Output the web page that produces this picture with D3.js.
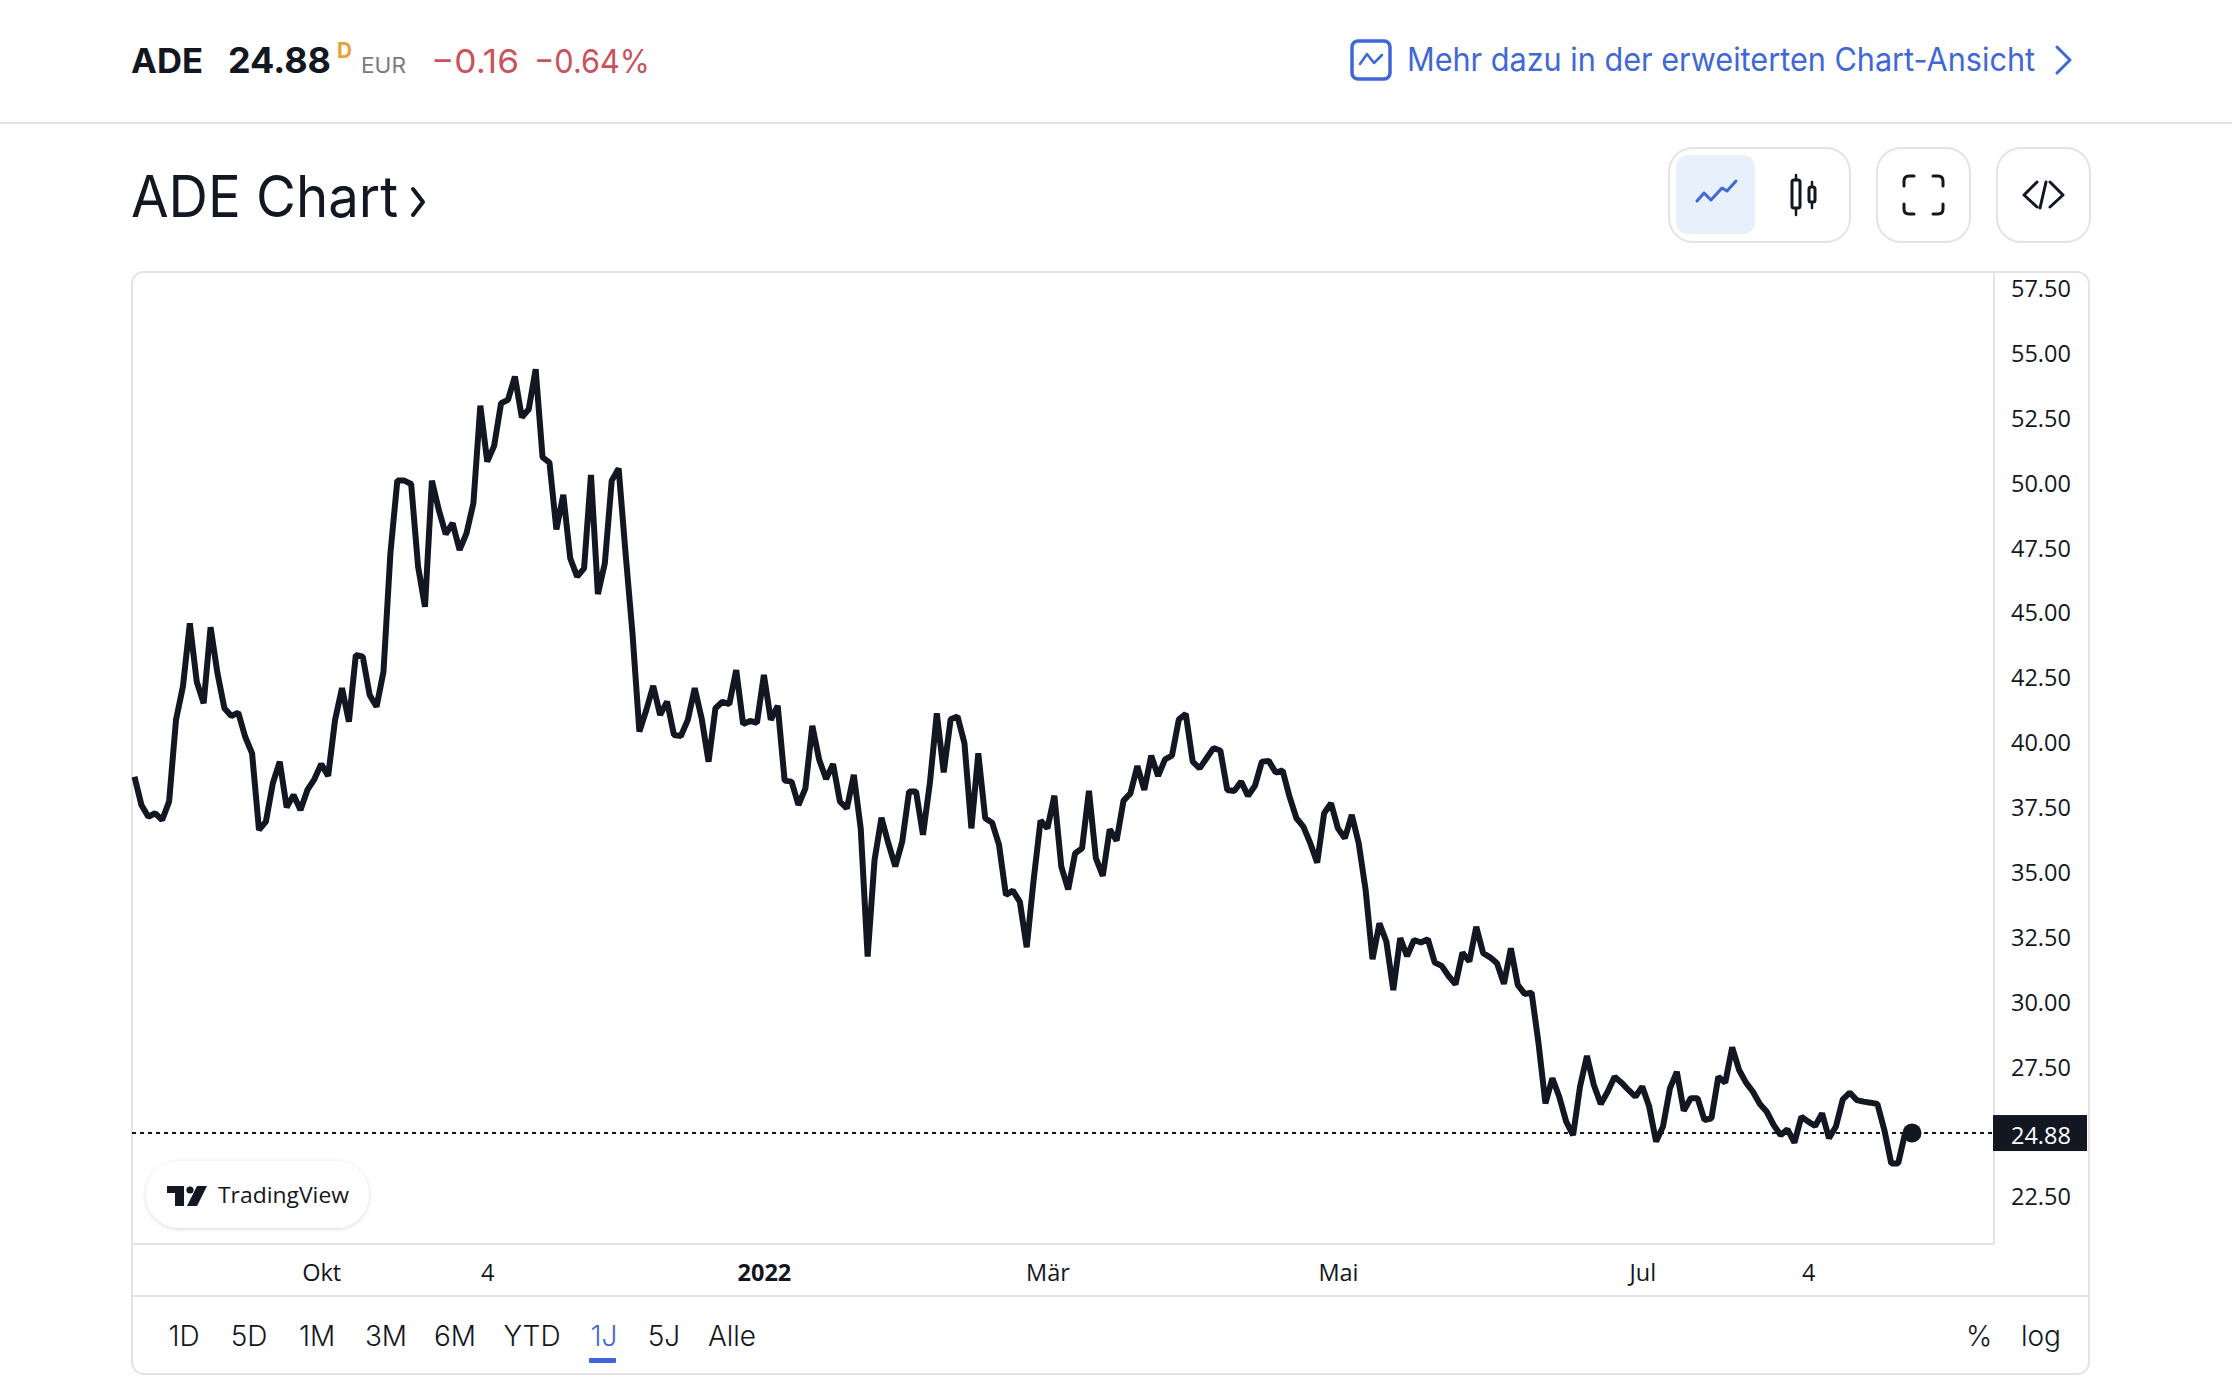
<!DOCTYPE html>
<html>
<head>
<meta charset="utf-8">
<script src="https://cdn.jsdelivr.net/npm/d3@7"></script>
<style>
	html, body { margin: 0; padding: 0; background: #fff; }
	svg { display: block; }
	text { font-family: Inter, "Noto Sans", sans-serif; fill: #131722; }
	.axis text { font-family: "Open Sans", sans-serif; font-size: 23.5px; }
</style>
</head>
<body>
<div id="chart"></div>
<script>
	// closing prices (one year of trading days)
	var closes = [
		38.61, 37.52, 37.07, 37.20, 36.94, 37.65, 40.80, 42.08, 44.52, 42.27,
		41.44, 44.37, 42.59, 41.25, 40.95, 41.08, 40.15, 39.51, 36.56, 36.88,
		38.36, 39.19, 37.43, 37.91, 37.33, 38.10, 38.51, 39.10, 38.64, 40.80,
		42.02, 40.73, 43.30, 43.24, 41.76, 41.31, 42.66, 47.22, 50.02, 50.02,
		49.89, 46.71, 45.16, 50.02, 48.89, 47.96, 48.38, 47.35, 47.99, 49.15,
		52.91, 50.75, 51.36, 53.00, 53.13, 54.03, 52.46, 52.77, 54.31, 50.92,
		50.71, 48.14, 49.47, 47.03, 46.32, 46.64, 50.24, 45.65, 46.83, 50.02,
		50.49, 47.22, 44.14, 40.35, 41.18, 42.11, 40.99, 41.50, 40.22, 40.18,
		40.80, 42.02, 40.86, 39.19, 41.25, 41.50, 41.41, 42.72, 40.64, 40.76,
		40.69, 42.53, 40.80, 41.34, 38.46, 38.42, 37.52, 38.16, 40.57, 39.26,
		38.52, 39.10, 37.65, 37.39, 38.68, 36.62, 31.68, 35.40, 37.03, 36.04,
		35.15, 36.11, 38.04, 38.04, 36.37, 38.36, 41.05, 38.78, 40.82, 40.93,
		39.90, 36.62, 39.51, 37.01, 36.84, 35.98, 34.05, 34.22, 33.80, 32.04,
		34.63, 36.92, 36.62, 37.88, 35.15, 34.27, 35.66, 35.85, 38.07, 35.47,
		34.79, 36.58, 36.15, 37.69, 37.97, 39.02, 38.10, 39.42, 38.64, 39.28,
		39.42, 40.82, 41.03, 39.19, 38.93, 39.32, 39.71, 39.62, 38.10, 38.06,
		38.42, 37.87, 38.26, 39.19, 39.22, 38.77, 38.85, 37.84, 37.01, 36.69,
		36.05, 35.30, 37.20, 37.59, 36.62, 36.24, 37.14, 36.05, 34.25, 31.58,
		32.96, 32.26, 30.39, 32.39, 31.70, 32.32, 32.22, 32.35, 31.45, 31.32,
		30.93, 30.61, 31.83, 31.49, 32.83, 31.81, 31.65, 31.42, 30.63, 32.00,
		30.59, 30.24, 30.29, 28.34, 26.02, 26.99, 26.28, 25.32, 24.80, 26.67,
		27.85, 26.73, 26.00, 26.47, 27.05, 26.82, 26.54, 26.28, 26.67, 25.90,
		24.55, 25.13, 26.60, 27.24, 25.74, 26.22, 26.22, 25.38, 25.45, 27.05,
		26.82, 28.18, 27.31, 26.82, 26.47, 26.00, 25.70, 25.19, 24.80, 25.02,
		24.51, 25.51, 25.32, 25.15, 25.64, 24.68, 25.13, 26.18, 26.44, 26.15,
		26.09, 26.05, 26.00, 25.00, 23.71, 23.71, 24.87, 24.88
	];
	var lastPrice = 24.88;
	var priceTicks = [57.5, 55, 52.5, 50, 47.5, 45, 42.5, 40, 37.5, 35, 32.5, 30, 27.5, 22.5];
	var timeTickIndex = [27, 51, 91, 132, 174, 218, 242];
	var timeTickLabels = ['Okt', '4', '2022', 'Mär', 'Mai', 'Jul', '4'];
	var ranges = ['1D', '5D', '1M', '3M', '6M', 'YTD', '1J', '5J', 'Alle'];
	var activeRange = '1J';
	var rangeCenters = [184, 249, 317, 386, 455, 532, 604, 664, 732];

	var blue = '#3f68d6', ink = '#131722', border = '#e3e4e8';

	var svg = d3.select('#chart').append('svg').attr('width', 2232).attr('height', 1392);

	function label(x, y, txt, size, opts) {
		opts = opts || {};
		var t = svg.append('text').attr('x', x).attr('y', y).text(txt)
			.style('font-size', size + 'px')
			.style('font-weight', opts.weight || 400)
			.style('fill', opts.fill || ink)
			.style('font-family', opts.family || null)
			.attr('text-anchor', opts.anchor || 'start');
		// the original face runs narrower than Inter, squeeze to the measured width
		if (opts.width) t.attr('textLength', opts.width).attr('lengthAdjust', 'spacingAndGlyphs');
		return t;
	}

	function strokePath(d, color, width) {
		return svg.append('path').attr('d', d).attr('fill', 'none')
			.attr('stroke', color).attr('stroke-width', width)
			.attr('stroke-linecap', 'round').attr('stroke-linejoin', 'round');
	}

	function box(x0, y0, x1, y1, r, fill, stroke) {
		return svg.append('rect').attr('x', x0).attr('y', y0)
			.attr('width', x1 - x0).attr('height', y1 - y0).attr('rx', r)
			.attr('fill', fill).attr('stroke', stroke || 'none').attr('stroke-width', 2);
	}

	// header
	label(131, 73, 'ADE', 34, {weight: 700, width: 72});
	label(228, 73, '24.88', 36, {weight: 700, width: 103});
	label(337, 58, 'D', 21, {weight: 700, fill: '#e9a23b', width: 15});
	label(361, 73, 'EUR', 21, {fill: '#787b86', width: 45});
	label(431, 73, '\u22120.16', 33, {fill: '#c9525e', width: 88});
	label(534, 73, '\u22120.64%', 33, {fill: '#c9525e', width: 116});

	box(1352, 41, 1390, 79, 6, 'none', blue).attr('stroke-width', 3.5);
	strokePath('M1360,64L1367,54L1374,63L1382,55', blue, 2.5);
	label(1407, 71, 'Mehr dazu in der erweiterten Chart-Ansicht', 32, {fill: blue, width: 628});
	strokePath('M2057,47L2070,60L2057,73', blue, 3);

	svg.append('line').attr('x1', 0).attr('x2', 2232).attr('y1', 123).attr('y2', 123)
		.attr('stroke', border).attr('stroke-width', 2);

	label(131, 217, 'ADE Chart', 57, {width: 267});
	strokePath('M413,189L423,202L413,215', ink, 4);

	// toolbar buttons
	box(1669, 148, 1850, 242, 24, '#fff', border);
	box(1676, 155, 1755, 234, 12, '#e8f0fb');
	strokePath('M1697,201L1704,193L1711,200L1722,188L1727,191L1736,181', blue, 3);
	strokePath('M1796,175V215M1812,182V208', ink, 2.5);
	box(1792, 180, 1800, 208, 2, '#fff', ink).attr('stroke-width', 3);
	box(1809, 187, 1815, 202, 2, '#fff', ink).attr('stroke-width', 3);

	box(1877, 148, 1970, 242, 24, '#fff', border);
	strokePath('M1904,186V181Q1904,176 1909,176H1914M1933,176H1938Q1943,176 1943,181V186M1943,204V209Q1943,214 1938,214H1933M1914,214H1909Q1904,214 1904,209V204', ink, 3);

	box(1997, 148, 2090, 242, 24, '#fff', border);
	strokePath('M2037,182L2024,195L2037,207M2050,182L2063,195L2050,207M2046,182L2040,208', ink, 3);

	// chart frame
	box(132, 272, 2089, 1374, 12, '#fff', border);
	[[132, 1244, 1994, 1244], [132, 1296, 2089, 1296], [1994, 272, 1994, 1244]].forEach(function(s) {
		svg.append('line').attr('x1', s[0]).attr('y1', s[1]).attr('x2', s[2]).attr('y2', s[3])
			.attr('stroke', border).attr('stroke-width', 2);
	});

	var x = d3.scaleLinear().domain([0, closes.length - 1]).range([134.5, 1912]);
	var y = d3.scaleLinear().domain([22.5, 57.5]).range([1194.8, 286.5]);

	// axes
	var yAxis = svg.append('g').attr('class', 'axis').attr('transform', 'translate(2011,2.5)')
		.call(d3.axisRight(y).tickValues(priceTicks).tickSize(0).tickPadding(0).tickFormat(d3.format('.2f')));
	yAxis.select('.domain').remove();

	var xAxis = svg.append('g').attr('class', 'axis').attr('transform', 'translate(0,1264)')
		.call(d3.axisBottom(x).tickValues(timeTickIndex).tickSize(0).tickPadding(0)
			.tickFormat(function(d, i) { return timeTickLabels[i]; }));
	xAxis.select('.domain').remove();
	xAxis.selectAll('text').style('font-weight', function(d, i) {
		return timeTickLabels[i] === '2022' ? 700 : 400;
	});

	// last price line + label
	svg.append('line').attr('x1', 132).attr('x2', 1994).attr('y1', y(lastPrice)).attr('y2', y(lastPrice))
		.attr('stroke', ink).attr('stroke-width', 2).attr('stroke-dasharray', '4 4');

	var line = d3.line().x(function(d, i) { return x(i); }).y(function(d) { return y(d); });
	svg.append('path').datum(closes).attr('d', line).attr('fill', 'none')
		.attr('stroke', ink).attr('stroke-width', 6).attr('stroke-linejoin', 'bevel');
	svg.append('circle').attr('cx', x(closes.length - 1)).attr('cy', y(lastPrice)).attr('r', 9.5).attr('fill', ink);

	svg.append('rect').attr('x', 1993).attr('y', y(lastPrice) - 18).attr('width', 94).attr('height', 36).attr('fill', ink);
	label(2011, y(lastPrice) + 10.5, d3.format('.2f')(lastPrice), 23.5, {fill: '#fff', family: '"Open Sans", sans-serif'});

	// TradingView badge
	var shadow = svg.append('defs').append('filter').attr('id', 'soft')
		.attr('x', '-10%').attr('y', '-20%').attr('width', '120%').attr('height', '150%');
	shadow.append('feDropShadow').attr('dx', 0).attr('dy', 1).attr('stdDeviation', 2)
		.attr('flood-color', '#000').attr('flood-opacity', 0.16);
	box(146, 1161, 369, 1228, 33, '#fff').attr('filter', 'url(#soft)');
	svg.append('path').attr('fill', ink).attr('d', 'M167,1186H184V1206H175V1193H167ZM197,1186H207L197,1206H187Z');
	svg.append('circle').attr('cx', 190).attr('cy', 1190).attr('r', 3.6).attr('fill', ink);
	label(218, 1203, 'TradingView', 22, {weight: 500, family: '"Open Sans", sans-serif', width: 131});

	// range selector
	svg.selectAll('.range').data(ranges).enter().append('text').attr('class', 'range')
		.attr('x', function(d, i) { return rangeCenters[i]; }).attr('y', 1346)
		.attr('text-anchor', 'middle').style('font-size', '28px').style('font-weight', 350)
		.style('fill', function(d) { return d === activeRange ? blue : ink; })
		.text(function(d) { return d; });
	svg.append('rect').attr('x', 589).attr('y', 1358).attr('width', 27).attr('height', 5).attr('rx', 1).attr('fill', blue);
	label(1979, 1346, '%', 28, {weight: 350, anchor: 'middle'});
	label(2041, 1346, 'log', 28, {weight: 350, anchor: 'middle'});
</script>
</body>
</html>
